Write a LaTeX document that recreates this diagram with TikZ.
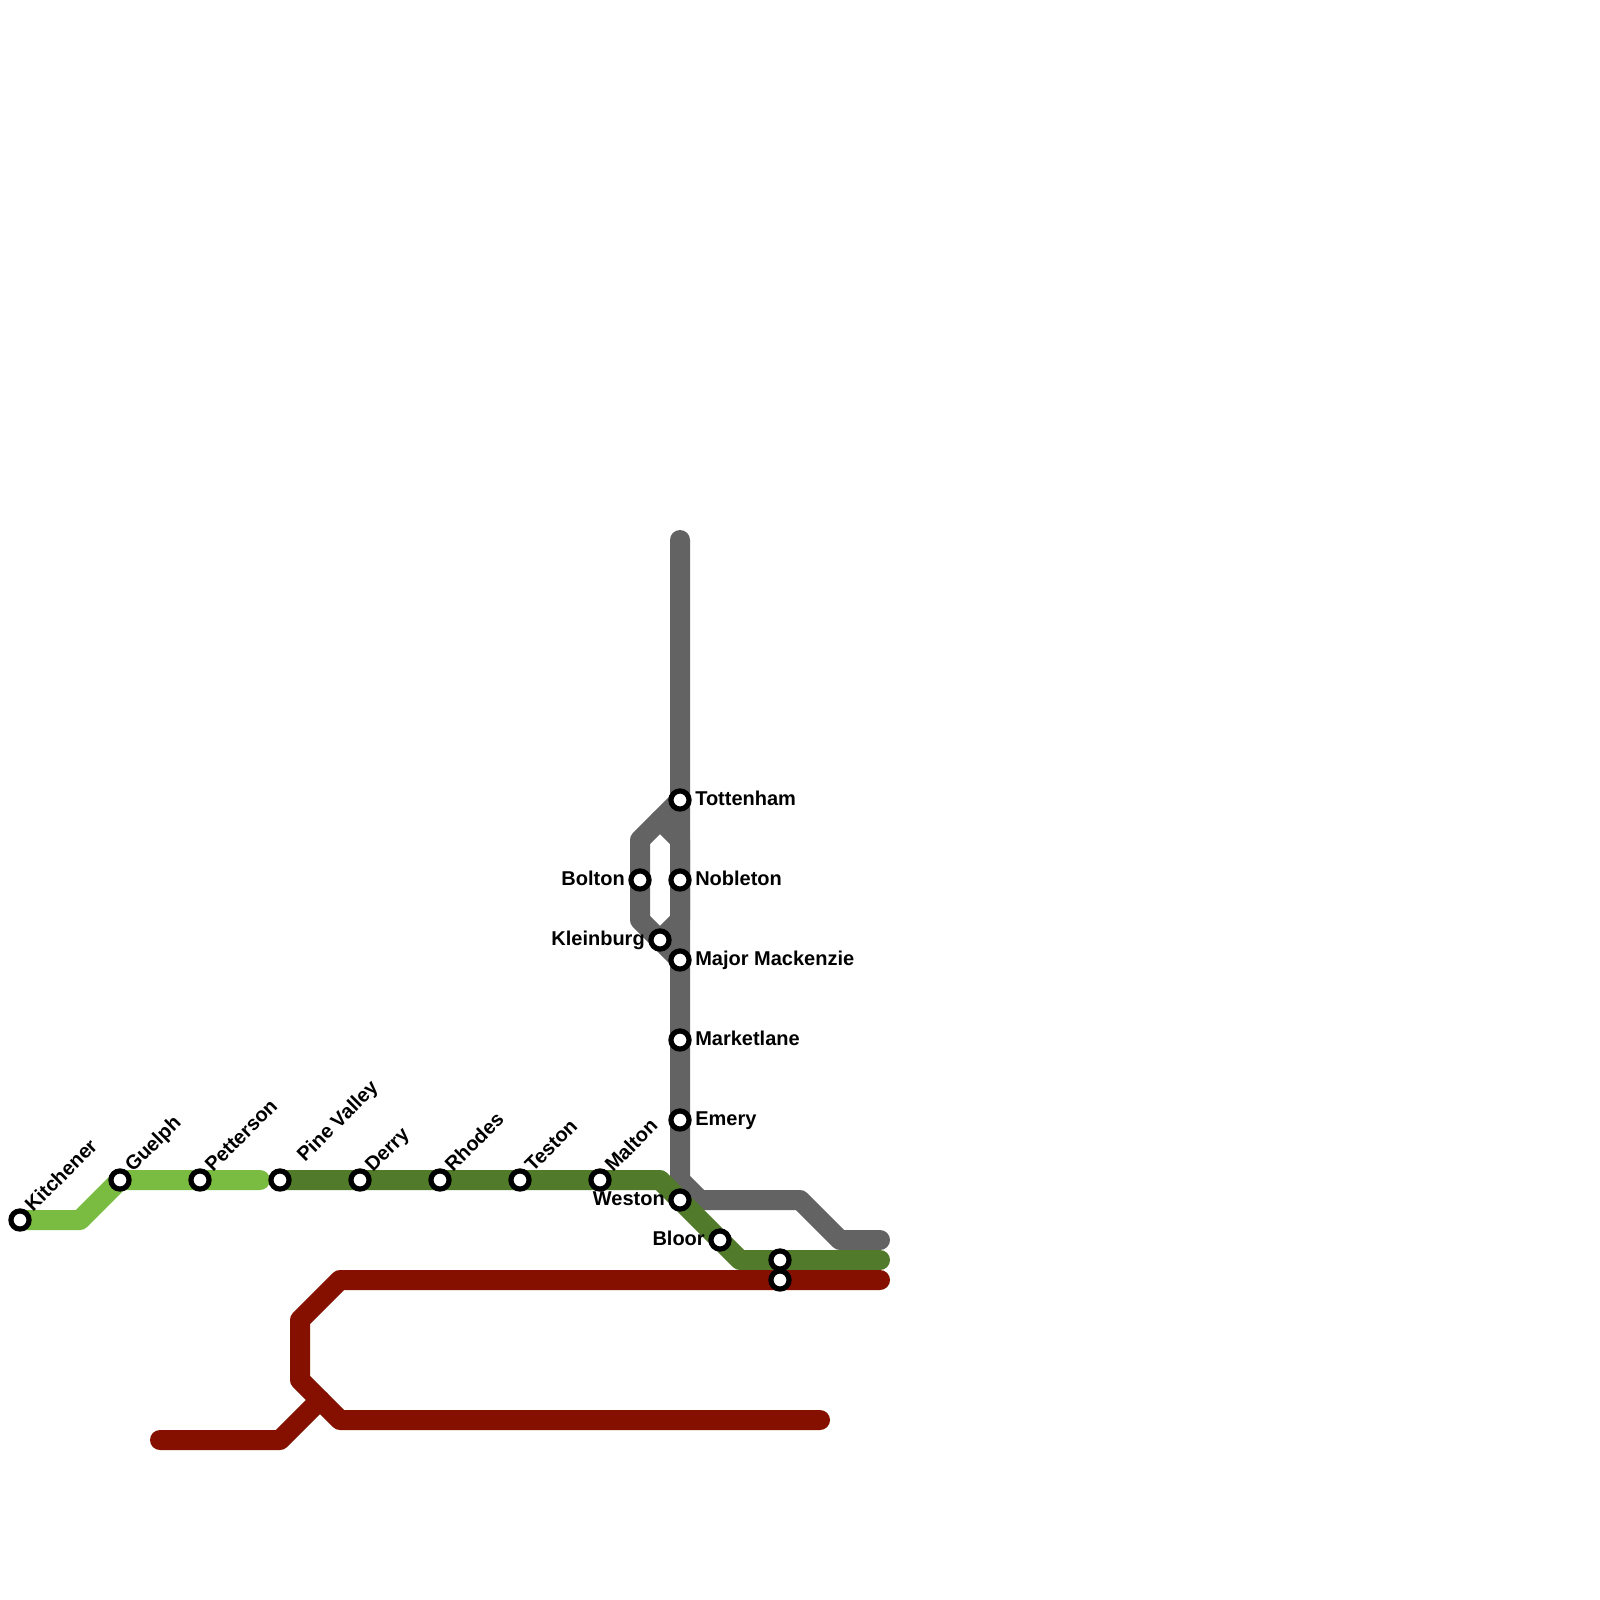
\documentclass[tikz,border=0pt]{standalone}
\usepackage{fontspec}
\setmainfont{Liberation Sans}
\usepackage{xcolor}
\usetikzlibrary{positioning,backgrounds}
\definecolor{linelime}{RGB}{122,188,66}
\definecolor{lineforest}{RGB}{81,122,42}
\definecolor{linegrey}{RGB}{99,99,99}
\definecolor{linered}{RGB}{133,16,0}

\begin{document}
\begin{tikzpicture}[
  x=0.75pt, y=-0.75pt,
  track/.style={line width=15pt, line cap=round, line join=round},
  stn/.style={draw=black, fill=white, circle, line width=3.9pt, minimum size=13.6pt, inner sep=0pt},
  lbl/.style={font=\fontsize{15}{18}\bfseries\selectfont, inner sep=0pt, text=black},
  lblright/.style={lbl, anchor=base west, shift={(15,5.5)}},
  lblleft/.style={lbl, anchor=base east, shift={(-15,5.5)}},
  lbldiag/.style={lbl, anchor=base west, shift={(13,-7)}, rotate=45}
]
  \useasboundingbox (0,0) rectangle (1600,1600);

  % bends
  \coordinate (limeA) at (80,1220);
  \coordinate (limeEnd) at (260,1180);
  \coordinate (forestA) at (660,1180);
  \coordinate (forestB) at (740,1260);
  \coordinate (forestEnd) at (880,1260);
  \coordinate (greyTop) at (680,540);
  \coordinate (greyA) at (680,1180);
  \coordinate (greyB) at (700,1200);
  \coordinate (greyC) at (800,1200);
  \coordinate (greyD) at (840,1240);
  \coordinate (greyEnd) at (880,1240);
  \coordinate (loopA) at (640,840);
  \coordinate (loopB) at (640,920);
  \coordinate (loopC) at (660,820);
  \coordinate (loopD) at (680,840);
  \coordinate (loopE) at (680,920);
  \coordinate (redStart) at (160,1440);
  \coordinate (redA) at (280,1440);
  \coordinate (redB) at (320,1400);
  \coordinate (redEnd) at (880,1280);
  \coordinate (redC) at (340,1280);
  \coordinate (redD) at (300,1320);
  \coordinate (redE) at (300,1380);
  \coordinate (redF) at (340,1420);
  \coordinate (redTail) at (820,1420);

  % stations
  \node[stn] (kitchener) at (20,1220) {};
  \node[stn] (guelph) at (120,1180) {};
  \node[stn] (petterson) at (200,1180) {};
  \node[stn] (pinevalley) at (280,1180) {};
  \node[stn] (derry) at (360,1180) {};
  \node[stn] (rhodes) at (440,1180) {};
  \node[stn] (teston) at (520,1180) {};
  \node[stn] (malton) at (600,1180) {};
  \node[stn] (weston) at (680,1200) {};
  \node[stn] (bloor) at (720,1240) {};
  \node[stn] (foreststop) at (780,1260) {};
  \node[stn] (redstop) at (780,1280) {};
  \node[stn] (tottenham) at (680,800) {};
  \node[stn] (nobleton) at (680,880) {};
  \node[stn] (majormack) at (680,960) {};
  \node[stn] (marketlane) at (680,1040) {};
  \node[stn] (emery) at (680,1120) {};
  \node[stn] (bolton) at (640,880) {};
  \node[stn] (kleinburg) at (660,940) {};

  % tracks
  \begin{scope}[on background layer]
    \draw[track, linegrey] (greyTop) -- (greyA) -- (greyB) -- (greyC) -- (greyD) -- (greyEnd);
    \draw[track, linegrey] (tottenham.center) -- (loopA) -- (loopB) -- (majormack.center);
    \draw[track, linegrey] (loopC) -- (loopD) -- (loopE) -- (kleinburg.center);
    \draw[track, linelime] (kitchener.center) -- (limeA) -- (guelph.center) -- (limeEnd);
    \draw[track, lineforest] (pinevalley.center) -- (forestA) -- (forestB) -- (forestEnd);
    \draw[track, linered] (redStart) -- (redA) -- (redB);
    \draw[track, linered] (redEnd) -- (redC) -- (redD) -- (redE) -- (redF) -- (redTail);
  \end{scope}

  % labels
  \node[lbldiag] (kitchenerlbl) at (kitchener.center) {Kitchener};
  \node[lbldiag] (guelphlbl) at (guelph.center) {Guelph};
  \node[lbldiag] (pettersonlbl) at (petterson.center) {Petterson};
  \node[shift={(12,-10)}, lbldiag] (pinevalleylbl) at (pinevalley.center) {Pine Valley};
  \node[lbldiag] (derrylbl) at (derry.center) {Derry};
  \node[lbldiag] (rhodeslbl) at (rhodes.center) {Rhodes};
  \node[lbldiag] (testonlbl) at (teston.center) {Teston};
  \node[lbldiag] (maltonlbl) at (malton.center) {Malton};
  \node[lblright] (tottenhamlbl) at (tottenham.center) {Tottenham};
  \node[lblright] (nobletonlbl) at (nobleton.center) {Nobleton};
  \node[lblright] (majormacklbl) at (majormack.center) {Major Mackenzie};
  \node[lblright] (marketlanelbl) at (marketlane.center) {Marketlane};
  \node[lblright] (emerylbl) at (emery.center) {Emery};
  \node[lblleft] (boltonlbl) at (bolton.center) {Bolton};
  \node[lblleft] (kleinburglbl) at (kleinburg.center) {Kleinburg};
  \node[lblleft] (westonlbl) at (weston.center) {Weston};
  \node[lblleft] (bloorlbl) at (bloor.center) {Bloor};
\end{tikzpicture}
\end{document}
